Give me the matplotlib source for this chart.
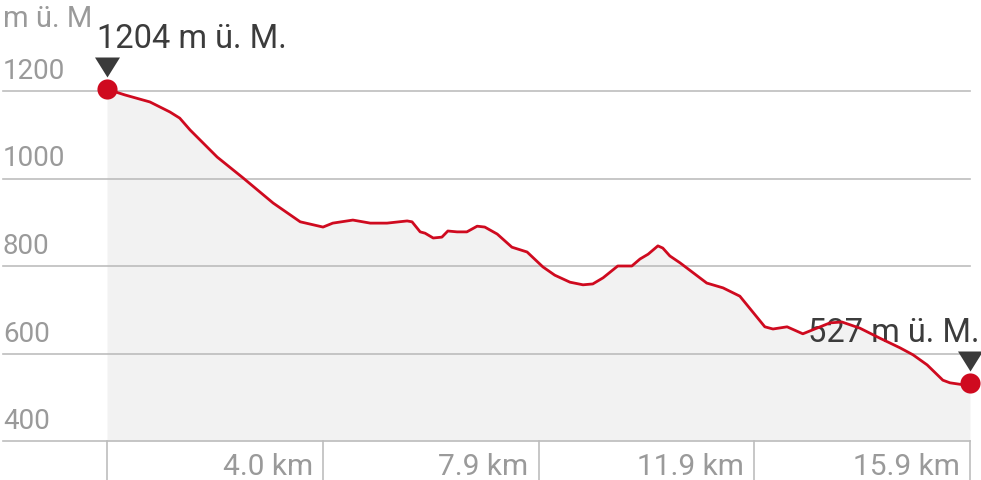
import matplotlib
matplotlib.use("Agg")
import matplotlib.pyplot as plt
import matplotlib.transforms as mtransforms
from matplotlib.path import Path

# ---- data ----
dist_km = [0.00, 0.33, 0.79, 1.16, 1.34, 1.53, 2.03, 2.51, 3.06, 3.56, 3.98, 4.16,
           4.53, 4.85, 5.16, 5.53, 5.62, 5.77, 5.86, 6.01, 6.17, 6.28, 6.45, 6.63,
           6.82, 6.96, 7.19, 7.46, 7.74, 8.03, 8.25, 8.53, 8.77, 8.95, 9.14, 9.41,
           9.67, 9.82, 9.97, 10.15, 10.24, 10.37, 10.56, 11.05, 11.35, 11.66, 12.12,
           12.27, 12.53, 12.82, 13.08, 13.32, 13.54, 13.87, 14.24, 14.61, 14.85,
           15.11, 15.40, 15.53, 15.75, 15.90]
elev_m = [1204, 1191, 1175, 1152, 1138, 1111, 1049, 1001, 944, 901, 889, 898,
          905, 898, 898, 903, 901, 878, 875, 864, 866, 880, 878, 878,
          891, 889, 873, 843, 832, 798, 779, 763, 757, 759, 773, 800,
          800, 816, 827, 846, 841, 823, 807, 761, 750, 731, 661,
          656, 661, 645, 658, 670, 672, 658, 635, 613, 597,
          574, 539, 533, 529, 533]

y_ticks = [400, 600, 800, 1000, 1200]
x_tick_pos = [0.0, 3.975, 7.95, 11.925, 15.9]
x_tick_labels = ["", "4.0 km", "7.9 km", "11.9 km", "15.9 km"]
unit_label = "m ü. M"
start_label = "1204 m ü. M."
end_label = "527 m ü. M."

# ---- style ----
FONT = "Roboto"
RED = "#cf0a1f"
GRID = "#bdbdbd"
TICKC = "#9a9a9a"
LABC = "#3c3c3c"
FILL = "#f2f2f2"

W, H = 981, 480
fig = plt.figure(figsize=(W / 100, H / 100), dpi=100)
x0, x1 = 107, 970
yb = 441
ax = fig.add_axes([x0 / W, (H - yb) / H, (x1 - x0) / W, yb / H])
ax.set_xlim(0, 15.9)
ax.set_ylim(400, 400 + yb / 0.4375)
ax.axis("off")

# fill
ax.fill_between(dist_km, elev_m, 400, color=FILL, lw=0, zorder=1)

# gridlines
gx0 = (3 - x0) / (x1 - x0)
trans_b = mtransforms.blended_transform_factory(ax.transAxes, ax.transData)
for v in y_ticks:
    ax.plot([gx0, 1], [v, v], transform=trans_b, color=GRID, lw=1.2,
            clip_on=False, zorder=2)
    ax.text(gx0, v, str(v), transform=trans_b + mtransforms.ScaledTranslation(0, 12 / 100, fig.dpi_scale_trans),
            ha="left", va="baseline", fontsize=20, color=TICKC, family=FONT)

ax.text(gx0, 1, unit_label,
        transform=ax.transAxes + mtransforms.ScaledTranslation(0, -27 / 100, fig.dpi_scale_trans),
        ha="left", va="baseline", fontsize=21, color=TICKC, family=FONT, clip_on=False)

# x ticks (vertical lines below axis) and labels
trans_x = mtransforms.blended_transform_factory(ax.transData, ax.transAxes)
for p, lab in zip(x_tick_pos, x_tick_labels):
    ax.plot([p, p], [0, -39 / yb], transform=trans_x, color=GRID, lw=1.2,
            clip_on=False, zorder=2)
    if lab:
        ax.text(p, 0, lab, transform=trans_x + mtransforms.ScaledTranslation(-10 / 100, -34 / 100, fig.dpi_scale_trans),
                ha="right", va="baseline", fontsize=21.5, color=TICKC, family=FONT)

# profile line
ax.plot(dist_km, elev_m, color=RED, lw=2.0, solid_joinstyle="round",
        solid_capstyle="round", zorder=4, clip_on=False)

# end markers
tri = Path([(-1.25, 1), (1.25, 1), (0, -1), (-1.25, 1)],
           [Path.MOVETO, Path.LINETO, Path.LINETO, Path.CLOSEPOLY])
for (xx, yy, lab, ha, dx) in [(dist_km[0], elev_m[0], start_label, "left", -10),
                              (dist_km[-1], elev_m[-1], end_label, "right", 10)]:
    ax.plot([xx], [yy], "o", ms=14.5, color=RED, mec="none", zorder=5, clip_on=False)
    ax.plot([xx], [yy], marker=tri, ms=18, color="#3a3a3a", mec="none",
            transform=ax.transData + mtransforms.ScaledTranslation(0, 22 / 100, fig.dpi_scale_trans),
            zorder=5, clip_on=False)
    ax.text(xx, yy, lab, ha=ha, va="baseline", fontsize=23.5, color=LABC, family=FONT,
            transform=ax.transData + mtransforms.ScaledTranslation(dx / 100, 41 / 100, fig.dpi_scale_trans),
            zorder=3, clip_on=False)

fig.savefig("out.png", dpi=100)
